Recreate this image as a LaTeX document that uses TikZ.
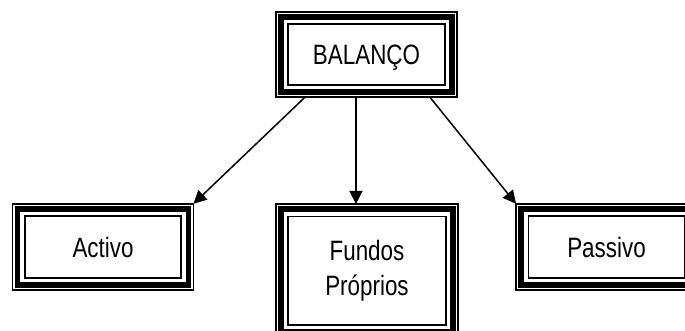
\documentclass[tikz,border=0pt]{standalone}
\usepackage{fontspec}
\setmainfont{Liberation Sans}[FakeStretch=0.8]
\usetikzlibrary{arrows.meta}
\tikzset{
  tribox/.style 2 args={rectangle, draw=none, outer sep=0pt, inner sep=0pt,
    minimum width=#1, minimum height=#2, align=center,
    font=\fontsize{28}{35}\selectfont,
    append after command={\pgfextra{\let\tbn\tikzlastnode
      \draw[line width=1.8pt] (\tbn.north west) rectangle (\tbn.south east);
      \draw[line width=5.5pt] ([shift={(5.2pt,-5.2pt)}]\tbn.north west) rectangle ([shift={(-5.2pt,5.2pt)}]\tbn.south east);
      \draw[line width=1.8pt] ([shift={(12.4pt,-12.4pt)}]\tbn.north west) rectangle ([shift={(-12.4pt,12.4pt)}]\tbn.south east);
    }}},
  conn/.style={line width=1.5pt, -{Triangle[length=13pt,width=13pt]}}
}
\begin{document}
\begin{tikzpicture}[x=1pt,y=-1pt]
\useasboundingbox (0,0) rectangle (685,331);
\node[tribox={181.5pt}{85.5pt}, text depth=0pt] (bal) at (366.5,54.5) {BALANÇO};
\node[tribox={181pt}{86.5pt}] (act) at (103,247) {Activo};
\node[tribox={182.5pt}{133pt}] (fun) at (367,270.5) {Fundos\\Próprios};
\node[tribox={181pt}{86.5pt}] (pas) at (606.5,247) {Passivo};
\draw[conn] ([xshift=29.2pt]bal.south west) -- (act.north east);
\draw[conn] ([xshift=80.2pt]bal.south west) -- ([xshift=80.2pt]fun.north west);
\draw[conn] ([xshift=154.2pt]bal.south west) -- (pas.north west);
\end{tikzpicture}
\end{document}
